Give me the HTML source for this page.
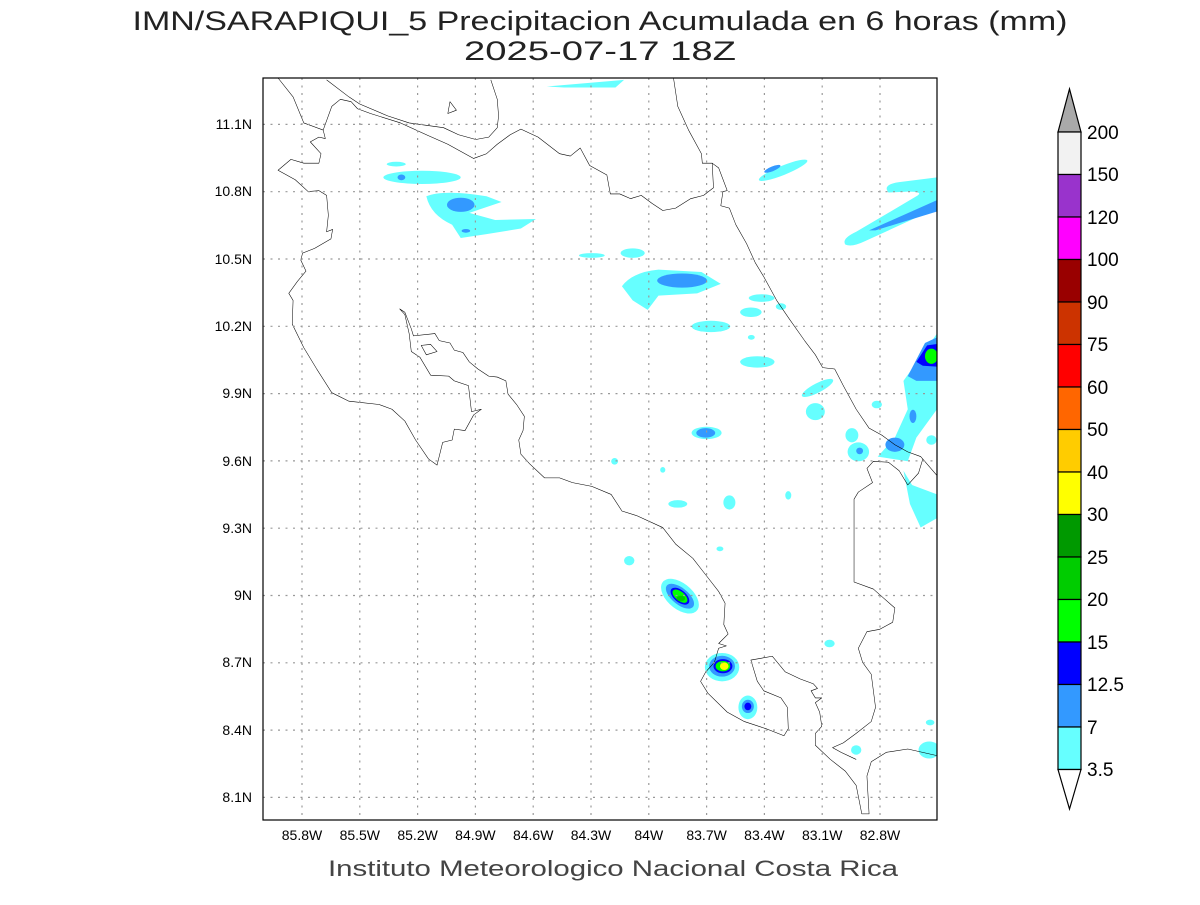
<!DOCTYPE html>
<html><head><meta charset="utf-8"><style>
html,body{margin:0;padding:0;background:#fff;}
svg text{font-family:"Liberation Sans",sans-serif;}
</style></head><body>
<svg width="1200" height="900" viewBox="0 0 1200 900" xmlns="http://www.w3.org/2000/svg">
<rect width="1200" height="900" fill="#fff"/>
<text x="600" y="30" font-size="27" text-anchor="middle" fill="#222" font-weight="300" textLength="935" lengthAdjust="spacingAndGlyphs">IMN/SARAPIQUI_5 Precipitacion Acumulada en 6 horas (mm)</text>
<text x="600" y="60" font-size="27" text-anchor="middle" fill="#222" textLength="272" lengthAdjust="spacingAndGlyphs">2025-07-17 18Z</text>

<svg x="263" y="78" width="674" height="742" viewBox="0 0 1568 1568" preserveAspectRatio="none">
<g fill="#66ffff">
<ellipse cx="370" cy="210" rx="90" ry="14"/><ellipse cx="310" cy="182" rx="22" ry="5"/>
<path d="M380,250 Q420,235 520,250 L555,262 L480,285 L540,300 L635,298 L600,318 L520,330 L460,338 L440,310 Q390,290 380,250Z"/>
<ellipse cx="765" cy="375" rx="30" ry="5"/><ellipse cx="860" cy="370" rx="28" ry="10"/>
<path d="M835,440 Q860,410 920,405 L1020,410 L1065,435 L1010,455 L920,460 L895,490 L860,470Z"/>
<ellipse cx="1042" cy="525" rx="45" ry="12"/><ellipse cx="1150" cy="600" rx="40" ry="12"/>
<ellipse cx="1135" cy="495" rx="25" ry="10"/><ellipse cx="1160" cy="465" rx="30" ry="8"/><ellipse cx="1205" cy="483" rx="12" ry="7"/>
<ellipse cx="1210" cy="195" rx="60" ry="10" transform="rotate(-20 1210 195)"/>
<path d="M1355,352 Q1345,340 1380,325 L1520,250 Q1540,240 1500,240 L1455,242 Q1440,225 1480,220 L1568,210 L1568,275 L1400,345 Q1370,358 1355,352Z"/>
<ellipse cx="1032" cy="750" rx="35" ry="13"/><ellipse cx="1285" cy="705" rx="22" ry="18"/>
<ellipse cx="1290" cy="655" rx="40" ry="10" transform="rotate(-25 1290 655)"/>
<ellipse cx="1370" cy="755" rx="15" ry="15"/><ellipse cx="1385" cy="790" rx="25" ry="20"/>
<path d="M1490,640 L1568,540 L1568,700 L1520,760 L1500,810 L1430,800 L1470,760 L1500,700Z"/>
<path d="M1490,830 L1510,860 L1568,880 L1568,930 L1530,950 L1505,900Z"/>
<ellipse cx="1428" cy="690" rx="12" ry="8"/><ellipse cx="1555" cy="765" rx="12" ry="10"/>
<ellipse cx="1085" cy="897" rx="14" ry="15"/><ellipse cx="965" cy="900" rx="22" ry="8"/>
<ellipse cx="852" cy="1020" rx="12" ry="10"/><ellipse cx="1222" cy="882" rx="7" ry="9"/>
<ellipse cx="970" cy="1095" rx="50" ry="28" transform="rotate(35 970 1095)"/>
<ellipse cx="1068" cy="1245" rx="40" ry="30"/><ellipse cx="1128" cy="1330" rx="22" ry="25"/>
<ellipse cx="1318" cy="1195" rx="12" ry="8"/><ellipse cx="1380" cy="1420" rx="12" ry="10"/>
<ellipse cx="1550" cy="1420" rx="25" ry="18"/><ellipse cx="1552" cy="1362" rx="10" ry="6"/>
<ellipse cx="818" cy="810" rx="8" ry="7"/><ellipse cx="930" cy="828" rx="6" ry="6"/>
<ellipse cx="1063" cy="995" rx="8" ry="5"/><ellipse cx="1136" cy="548" rx="8" ry="5"/>
<path d="M660,18 L840,4 L820,20 L700,20Z"/>
</g>
<g fill="#3399ff">
<ellipse cx="322" cy="210" rx="9" ry="6"/><ellipse cx="460" cy="268" rx="32" ry="15"/><ellipse cx="472" cy="323" rx="10" ry="4"/>
<ellipse cx="975" cy="428" rx="58" ry="15"/><ellipse cx="1030" cy="750" rx="22" ry="10"/>
<ellipse cx="1185" cy="192" rx="20" ry="5" transform="rotate(-20 1185 192)"/>
<path d="M1410,322 L1568,258 L1568,282 L1425,322Z"/>
<path d="M1500,630 L1540,560 L1568,548 L1568,640 L1520,640Z"/><ellipse cx="1470" cy="775" rx="22" ry="15"/>
<ellipse cx="1512" cy="715" rx="8" ry="14"/><ellipse cx="1388" cy="788" rx="8" ry="7"/>
<ellipse cx="970" cy="1095" rx="38" ry="18" transform="rotate(35 970 1095)"/>
<ellipse cx="1068" cy="1243" rx="30" ry="22"/><ellipse cx="1128" cy="1328" rx="14" ry="14"/>
</g>
<g fill="#0000ff"><path d="M1520,600 L1545,565 L1568,562 L1568,610 L1535,608Z"/>
<ellipse cx="970" cy="1095" rx="25" ry="13" transform="rotate(35 970 1095)"/><ellipse cx="1070" cy="1243" rx="22" ry="15"/><ellipse cx="1128" cy="1328" rx="8" ry="8"/></g>
<g fill="#00ff00"><ellipse cx="1555" cy="588" rx="15" ry="16"/><ellipse cx="970" cy="1095" rx="20" ry="10" transform="rotate(35 970 1095)"/><ellipse cx="1070" cy="1243" rx="17" ry="11"/></g>
<g fill="#00cc00"><ellipse cx="972" cy="1100" rx="10" ry="6"/></g>
<g fill="#ffff00"><ellipse cx="1073" cy="1243" rx="10" ry="8"/></g>
<g fill="none" stroke="#000" stroke-width="1.2" vector-effect="non-scaling-stroke" stroke-linejoin="round">
<polyline points="35,0 70,40 95,95 140,110 145,128 130,125 110,135 135,160 130,180 95,180 65,172 35,195 75,215 105,240 130,238 148,248 152,290 148,325 162,320 158,340 120,360 92,370 88,385 100,408 80,430 60,455 70,470 68,520 95,570 125,615 160,665 200,683 270,690 300,700 330,725 355,765 385,805 405,818 418,770 440,765 445,742 470,745 490,712 508,700 485,705 478,650 445,640 432,630 390,628 365,590 345,578 340,540 330,500 318,488 330,495 345,530 350,545 400,540 410,555 435,560 445,575 465,580 480,600 500,615 525,630 545,632 565,640 570,668 590,690 608,715 605,745 595,765 600,795 620,815 655,845 690,845 720,855 765,863 810,880 835,915 870,925 930,950 960,985 1000,1015 1030,1050 1060,1085 1075,1110 1072,1155 1082,1175 1060,1195 1078,1200 1060,1205 1050,1235 1030,1255 1018,1275 1035,1300 1080,1340 1120,1360 1170,1375 1212,1390 1222,1375 1220,1330 1205,1310 1165,1295 1150,1275 1135,1230 1185,1222 1215,1255 1250,1270 1280,1280 1290,1290 1275,1295 1285,1310 1300,1310 1285,1320 1295,1340 1300,1370 1285,1385 1285,1410 1320,1440 1355,1465 1380,1495 1393,1555 1410,1555 1405,1475 1415,1445 1450,1425 1500,1418 1568,1432"/>
<polyline points="140,110 160,60 180,45 205,50 220,65 250,75 320,95 380,120 430,140 490,170 520,160 545,140 575,120 600,108 640,125 690,160 715,165 738,148 760,185 800,205 808,245 830,245 855,255 880,248 905,265 930,280 960,275 995,255 1025,248 1048,232 1045,180 1060,190 1080,238 1070,240 1065,270 1085,275 1100,310 1125,350 1145,390 1165,420 1195,470 1225,510 1260,555 1285,585 1302,612 1330,615 1350,650 1380,700 1410,740 1440,755 1470,775 1500,790 1530,800 1568,840"/>
<polyline points="148,4 200,40 225,55 290,80 340,95 380,100 420,105 455,120 495,130 525,125 545,105 548,80 545,45 530,4"/>
<polyline points="955,0 965,60 990,110 1020,160 1022,180 1045,180"/>
<polygon points="430,75 435,50 450,68"/>
<polygon points="368,565 390,563 405,578 380,585"/>
<polyline points="1535,805 1525,835 1500,860 1480,830 1455,812 1420,810 1405,825 1418,855 1385,875 1375,890 1375,1065 1420,1080 1445,1100 1470,1120 1465,1150 1435,1165 1405,1170 1385,1205 1395,1235 1415,1260 1425,1330 1415,1360 1380,1385 1350,1405 1325,1415 1345,1425 1380,1440"/>
</g>
</svg>

<g stroke="#999" stroke-width="1.2" stroke-dasharray="2,5.5">
<line x1="302" y1="78" x2="302" y2="820"/><line x1="359.8" y1="78" x2="359.8" y2="820"/><line x1="417.6" y1="78" x2="417.6" y2="820"/><line x1="475.4" y1="78" x2="475.4" y2="820"/><line x1="533.2" y1="78" x2="533.2" y2="820"/><line x1="591" y1="78" x2="591" y2="820"/><line x1="648.8" y1="78" x2="648.8" y2="820"/><line x1="706.6" y1="78" x2="706.6" y2="820"/><line x1="764.4" y1="78" x2="764.4" y2="820"/><line x1="822.2" y1="78" x2="822.2" y2="820"/><line x1="880" y1="78" x2="880" y2="820"/>
<line x1="263" y1="124.4" x2="937" y2="124.4"/><line x1="263" y1="191.7" x2="937" y2="191.7"/><line x1="263" y1="259" x2="937" y2="259"/><line x1="263" y1="326.3" x2="937" y2="326.3"/><line x1="263" y1="393.6" x2="937" y2="393.6"/><line x1="263" y1="460.9" x2="937" y2="460.9"/><line x1="263" y1="528.2" x2="937" y2="528.2"/><line x1="263" y1="595.5" x2="937" y2="595.5"/><line x1="263" y1="662.8" x2="937" y2="662.8"/><line x1="263" y1="730.1" x2="937" y2="730.1"/><line x1="263" y1="797.4" x2="937" y2="797.4"/>
</g>
<rect x="263" y="78" width="674" height="742" fill="none" stroke="#000" stroke-width="1.2"/>
<g font-size="14" fill="#000" text-anchor="end">
<text x="252" y="129">11.1N</text><text x="252" y="196">10.8N</text><text x="252" y="264">10.5N</text><text x="252" y="331">10.2N</text><text x="252" y="398">9.9N</text><text x="252" y="466">9.6N</text><text x="252" y="533">9.3N</text><text x="252" y="600">9N</text><text x="252" y="667">8.7N</text><text x="252" y="735">8.4N</text><text x="252" y="802">8.1N</text>
</g>
<g font-size="14" fill="#000" text-anchor="middle">
<text x="302" y="840">85.8W</text><text x="359.8" y="840">85.5W</text><text x="417.6" y="840">85.2W</text><text x="475.4" y="840">84.9W</text><text x="533.2" y="840">84.6W</text><text x="591" y="840">84.3W</text><text x="648.8" y="840">84W</text><text x="706.6" y="840">83.7W</text><text x="764.4" y="840">83.4W</text><text x="822.2" y="840">83.1W</text><text x="880" y="840">82.8W</text>
</g>
<text x="613" y="876" font-size="22" text-anchor="middle" fill="#444" textLength="570" lengthAdjust="spacingAndGlyphs">Instituto Meteorologico Nacional Costa Rica</text>

<g stroke="#000" stroke-width="1.2">
<polygon points="1058,132 1081,132 1069.5,89" fill="#a9a9a9"/>
<rect x="1058" y="132" width="23" height="42.5" fill="#f2f2f2"/>
<rect x="1058" y="174.5" width="23" height="42.5" fill="#9933cc"/>
<rect x="1058" y="217" width="23" height="42.5" fill="#ff00ff"/>
<rect x="1058" y="259.5" width="23" height="42.5" fill="#990000"/>
<rect x="1058" y="302" width="23" height="42.5" fill="#cc3300"/>
<rect x="1058" y="344.5" width="23" height="42.5" fill="#ff0000"/>
<rect x="1058" y="387" width="23" height="42.5" fill="#ff6600"/>
<rect x="1058" y="429.5" width="23" height="42.5" fill="#ffcc00"/>
<rect x="1058" y="472" width="23" height="42.5" fill="#ffff00"/>
<rect x="1058" y="514.5" width="23" height="42.5" fill="#009900"/>
<rect x="1058" y="557" width="23" height="42.5" fill="#00cc00"/>
<rect x="1058" y="599.5" width="23" height="42.5" fill="#00ff00"/>
<rect x="1058" y="642" width="23" height="42.5" fill="#0000ff"/>
<rect x="1058" y="684.5" width="23" height="42.5" fill="#3399ff"/>
<rect x="1058" y="727" width="23" height="42.5" fill="#66ffff"/>
<polygon points="1058,769.5 1081,769.5 1069.5,809" fill="#fff"/>
</g>
<g font-size="19" fill="#000">
<text x="1087" y="139">200</text><text x="1087" y="181">150</text><text x="1087" y="224">120</text><text x="1087" y="266">100</text><text x="1087" y="309">90</text><text x="1087" y="351">75</text><text x="1087" y="394">60</text><text x="1087" y="436">50</text><text x="1087" y="479">40</text><text x="1087" y="521">30</text><text x="1087" y="564">25</text><text x="1087" y="606">20</text><text x="1087" y="649">15</text><text x="1087" y="691">12.5</text><text x="1087" y="734">7</text><text x="1087" y="776">3.5</text>
</g>
</svg>
</body></html>
